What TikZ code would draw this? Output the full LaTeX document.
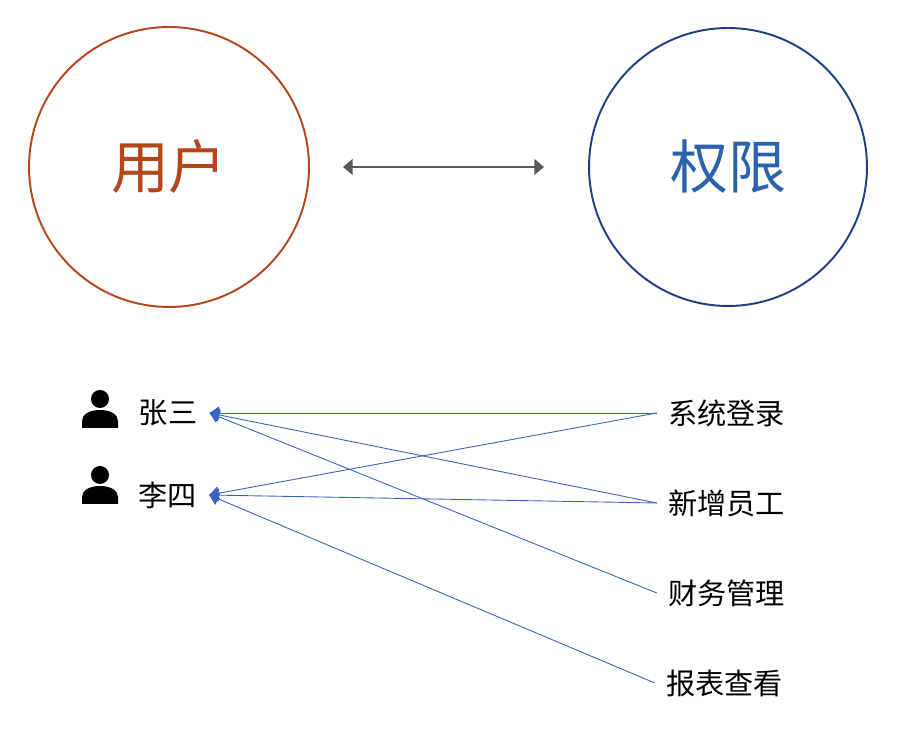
\documentclass[tikz,border=0pt]{standalone}
\usepackage{fontspec}
\newfontfamily\cjk{Noto Sans CJK SC}
\usetikzlibrary{arrows.meta}
\definecolor{usercolor}{HTML}{B5451B}
\definecolor{permcolor}{HTML}{203F85}
\definecolor{permtext}{HTML}{2A62AC}
\definecolor{linkcolor}{HTML}{3A62C0}
\definecolor{bothcolor}{HTML}{595959}
\tikzset{
    bigcircle/.style={draw,circle,line width=1.1pt,inner sep=0pt,font=\cjk\fontsize{33}{33}\selectfont},
    leftlabel/.style={inner xsep=0.24cm,inner ysep=0pt,font=\cjk\fontsize{16.6}{16.6}\selectfont},
    rightlabel/.style={inner xsep=0.22cm,inner ysep=0pt,font=\cjk\fontsize{16.6}{16.6}\selectfont},
    link/.style={linkcolor,line width=0.5pt,-{Triangle[length=5.5pt,width=7.5pt]}}
}
\begin{document}
\begin{tikzpicture}[x=0.02cm,y=-0.02cm]
    \useasboundingbox (0,0) rectangle (914,732);
    \node[bigcircle,minimum size=5.6cm,draw=usercolor,text=usercolor] (user) at (169,167) {用户};
    \node[bigcircle,minimum size=5.56cm,draw=permcolor,text=permtext] (perm) at (728,167) {权限};
    \coordinate (bothl) at (343,167);
    \coordinate (bothr) at (544,167);
    \draw[bothcolor,line width=1.1pt,{Triangle[length=5.5pt,width=9pt]}-{Triangle[length=5.5pt,width=9pt]}] (bothl)--(bothr);
    % people
    \foreach \y in {0,76}{
        \fill (100,399+\y) circle (9);
        \fill (82,428+\y)--(82,421+\y) .. controls (82,414+\y) and (90,410+\y) .. (100,410+\y) .. controls (110,410+\y) and (118,414+\y) .. (118,421+\y)--(118,428+\y)--cycle;
    }
    \node[leftlabel] (zhang) at (168,413) {张三};
    \node[leftlabel] (li) at (167.5,495) {李四};
    \node[rightlabel] (login) at (726.5,413) {系统登录};
    \node[rightlabel] (staff) at (726.5,503) {新增员工};
    \node[rightlabel] (finance) at (726.5,593) {财务管理};
    \node[rightlabel] (report) at (724.5,683) {报表查看};
    \draw[link] (login.west)--(zhang.east);
    \draw[link] (staff.west)--(zhang.east);
    \draw[link] (finance.west)--(zhang.east);
    \draw[link] (login.west)--(li.east);
    \draw[link] (staff.west)--(li.east);
    \draw[link] (report.west)--(li.east);
\end{tikzpicture}
\end{document}
